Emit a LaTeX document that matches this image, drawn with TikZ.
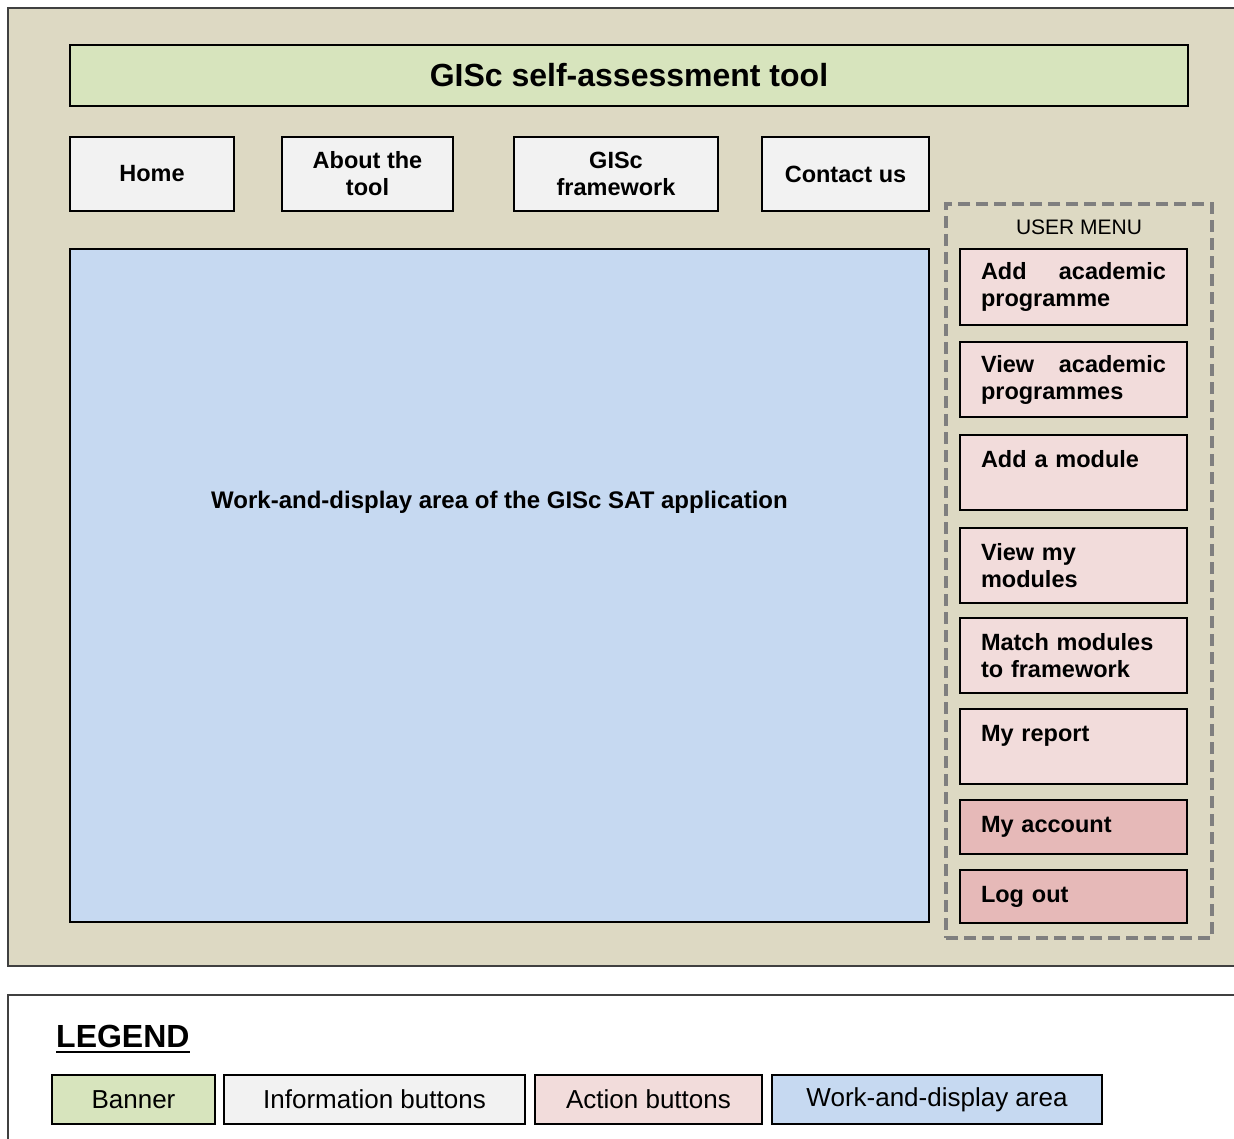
\documentclass[tikz,border=0pt]{standalone}
\usepackage{fontspec}
\setmainfont{Liberation Sans}
\definecolor{bgtan}{HTML}{DDD9C3}
\definecolor{bannergreen}{HTML}{D7E4BD}
\definecolor{infogray}{HTML}{F2F2F2}
\definecolor{workblue}{HTML}{C6D9F1}
\definecolor{actpink}{HTML}{F2DCDB}
\definecolor{actdark}{HTML}{E6B9B8}
\definecolor{menugray}{HTML}{7F7F7F}
\definecolor{framegray}{HTML}{404040}
\tikzset{
  boxbase/.style={draw=black, line width=1.8pt, inner sep=0pt, outer sep=0pt, rectangle},
  infobtn/.style={boxbase, fill=infogray, align=center,
    font=\fontsize{23.5}{27}\selectfont\bfseries},
  actbtn/.style={boxbase, fill=actpink, minimum width=227pt, text width=185pt, align=left,
    font=\fontsize{23.5}{27}\selectfont\bfseries},
  actdarkbtn/.style={actbtn, fill=actdark},
  legbox/.style={boxbase, line width=1.6pt, minimum height=49pt,
    font=\fontsize{26}{30}\selectfont},
}
\begin{document}
\begin{tikzpicture}[x=1pt,y=-1pt]
\useasboundingbox (0,0) rectangle (1234,1139);
\clip (0,0) rectangle (1234,1139);
% outer frame
\node[draw=framegray, line width=1.5pt, fill=bgtan, inner sep=0pt, outer sep=0pt,
  minimum width=1240pt, minimum height=958pt, anchor=north west] (frame) at (8,8) {};
% banner
\node[boxbase, fill=bannergreen, minimum width=1118pt, minimum height=61pt,
  font=\fontsize{32}{36}\selectfont\bfseries] (banner) at (629,75.5) {GISc self-assessment tool};
% info buttons
\node[infobtn, minimum width=164pt, minimum height=74pt] (home) at (152,174) {Home};
\node[infobtn, minimum width=171pt, minimum height=74pt] (about) at (367.5,174) {About the\\tool};
\node[infobtn, minimum width=204pt, minimum height=74pt] (framework) at (616,174) {GISc\\framework};
\node[infobtn, minimum width=167pt, minimum height=74pt] (contact) at (845.5,174) {Contact us};
% work area
\node[boxbase, fill=workblue, minimum width=859pt, minimum height=673pt] (work) at (499.5,585.5) {};
\node[font=\fontsize{24}{28}\selectfont\bfseries, inner sep=0pt] (worktext) at (499.5,502)
  {Work-and-display area of the GISc SAT application};
% user menu
\node[draw=menugray, line width=4.5pt, dash pattern=on 12pt off 6pt, inner sep=0pt,
  minimum width=266pt, minimum height=734pt] (menu) at (1079,571) {};
\node[font=\fontsize{21}{25}\selectfont, inner sep=0pt] (menutitle) at (1079,227) {USER MENU};
\node[actbtn, minimum height=76pt] (addprog) at (1073.5,287) {Add\hfill academic\\programme};
\node[actbtn, minimum height=75pt] (viewprog) at (1073.5,379.5) {View\hfill academic\\programmes};
\node[actbtn, minimum height=75pt] (addmod) at (1073.5,472.5) {Add a module\\\mbox{}};
\node[actbtn, minimum height=75pt] (viewmod) at (1073.5,565.5) {View my\\modules};
\node[actbtn, minimum height=75pt] (match) at (1073.5,655.5) {Match modules\\to framework};
\node[actbtn, minimum height=75pt] (report) at (1073.5,746.5) {My report\\\mbox{}};
\node[actdarkbtn, minimum height=54pt] (account) at (1073.5,827) {My account};
\node[actdarkbtn, minimum height=53pt] (logout) at (1073.5,896.5) {Log out};
% legend
\node[draw=framegray, line width=1.5pt, fill=white, inner sep=0pt, outer sep=0pt,
  minimum width=1240pt, minimum height=200pt, anchor=north west] (legendframe) at (8,995) {};
\node[font=\fontsize{32}{36}\selectfont\bfseries, inner sep=0pt, anchor=base west] (legendtitle)
  at (56,1047) {LEGEND};
\draw[line width=2.2pt] (legendtitle.base west) ++(0,5) coordinate (ulstart) -- (ulstart -| legendtitle.base east);
\node[legbox, fill=bannergreen, minimum width=163pt] (legbanner) at (133.5,1099.5) {Banner};
\node[legbox, fill=infogray, minimum width=301pt] (leginfo) at (374.5,1099.5) {Information buttons};
\node[legbox, fill=actpink, minimum width=227pt] (legact) at (648.5,1099.5) {Action buttons};
\node[legbox, fill=workblue, minimum width=330pt] (legwork) at (937,1099.5) {Work-and-display area};
\end{tikzpicture}
\end{document}
